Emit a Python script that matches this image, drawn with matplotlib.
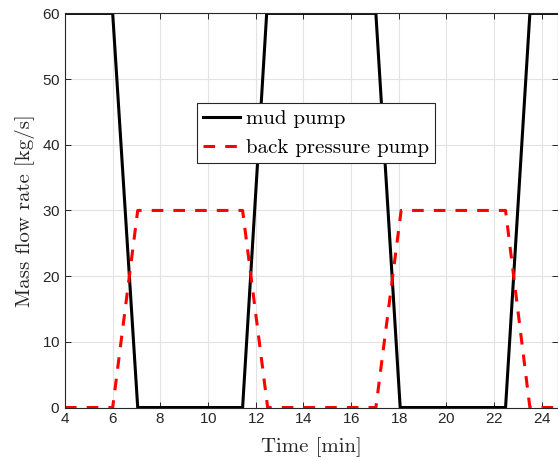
import matplotlib
matplotlib.use("Agg")
import matplotlib.pyplot as plt

# Data
mud_t = [4.0, 6.0, 7.05, 11.45, 12.46, 17.04, 18.06, 22.48, 23.5, 24.7]
mud_q = [60, 60, 0, 0, 60, 60, 0, 0, 60, 60]
bp_t = [4.0, 6.0, 7.05, 11.45, 12.5, 17.04, 18.1, 22.48, 23.5, 24.7]
bp_q = [0, 0, 30, 30, 0, 0, 30, 30, 0, 0]
xticks = [4, 6, 8, 10, 12, 14, 16, 18, 20, 22, 24]
yticks = [0, 10, 20, 30, 40, 50, 60]

plt.rcParams['axes.formatter.use_mathtext'] = True
fig = plt.figure(figsize=(5.58, 4.61), dpi=100)
ax = fig.add_axes([0.1165, 0.116, 0.8835, 0.855])

ax.plot(mud_t, mud_q, color='black', lw=2.2, label='mud pump', solid_joinstyle='miter')
ax.plot(bp_t, bp_q, color='red', lw=2.2, dashes=(3.8, 3.3), label='back pressure pump')

ax.set_xlim(4, 24.68)
ax.set_ylim(0, 60)
ax.set_xticks(xticks)
ax.set_yticks(yticks)
ax.grid(True, color='#e3e3e3', lw=0.8)
ax.set_axisbelow(True)
ax.tick_params(direction='in', top=True, right=True, length=4, width=0.7,
               color='#262626', labelsize=11, labelcolor='#262626')
for lab in ax.get_xticklabels() + ax.get_yticklabels():
    lab.set_family('Liberation Sans')
for s in ax.spines.values():
    s.set_color('#262626')
    s.set_linewidth(0.8)

ax.set_xlabel('Time [min]', family='cmr10', fontsize=15, color='#262626', labelpad=8)
ax.set_ylabel('Mass flow rate [kg/s]', family='cmr10', fontsize=15, color='#262626', labelpad=5)

leg = ax.legend(loc='upper left', bbox_to_anchor=(0.268, 0.772), borderaxespad=0,
                prop={'family': 'cmr10', 'size': 15}, fancybox=False,
                framealpha=1, edgecolor='#262626', handlelength=1.75,
                handletextpad=0.3, borderpad=0.3, labelspacing=0.5)
leg.get_frame().set_linewidth(0.8)

fig.savefig('out.png', dpi=100)
